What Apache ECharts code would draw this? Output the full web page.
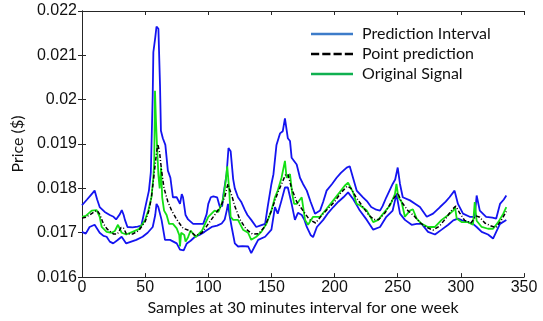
<!DOCTYPE html>
<html><head><meta charset="utf-8">
<script src="https://cdn.jsdelivr.net/npm/echarts@6/dist/echarts.min.js"></script>
<style>html,body{margin:0;padding:0;background:#fff}#c{width:543px;height:321px}</style>
</head><body><div id="c"></div>
<script>
// ---- data ----
const xTicks = [0, 50, 100, 150, 200, 250, 300, 350];
const yTickLabels = ['0.016','0.017','0.018','0.019','0.02','0.021','0.022'];
const legendNames = ['Prediction Interval','Point prediction','Original Signal'];

const upperX = [0,4,7,10,12,14,18,22,25,27,30,31.5,33,34,36,40,44,47,48.5,51,53,54.5,56,56.5,58,59,60.5,61.8,62.5,64,66,67,68,70,72,75,77.6,79,80,82,84,88,92,96,98.7,100,102,104,107,109,111,112,114.5,116,117.7,119.7,121,123.5,126,129,131,134,138,141,145,147,150,151.6,154,156.8,159,160.7,162,163,164.7,166,170,172.6,175,178,181,184.5,188.5,191,193.7,198,201.6,205,209.6,212,214.6,217.5,222.5,226,229,233,236,238,241,246,248,250,251.8,254,259.7,264,267.6,273,278,283.5,288,291,295,297.7,301.7,307,311,312.5,315,320,325,328,331,334,336];
const upperY = [0.01762,0.01775,0.01785,0.01795,0.01775,0.01758,0.01747,0.0174,0.01736,0.0173,0.01742,0.01751,0.0174,0.01729,0.01713,0.01712,0.01714,0.01716,0.01736,0.01769,0.01795,0.01836,0.0201,0.02107,0.0214,0.02165,0.0216,0.0203,0.0193,0.01913,0.01898,0.01896,0.0184,0.01824,0.0178,0.0178,0.01765,0.01787,0.0178,0.0174,0.0173,0.0172,0.0172,0.0172,0.01742,0.01765,0.0178,0.01782,0.0178,0.0176,0.0176,0.01787,0.01832,0.01891,0.01884,0.01821,0.018,0.0178,0.0177,0.01751,0.0174,0.01729,0.01713,0.01716,0.0172,0.01758,0.0181,0.01832,0.01898,0.01924,0.01929,0.01958,0.01958,0.01913,0.01907,0.01869,0.01854,0.01824,0.0181,0.01795,0.0177,0.01743,0.0175,0.0177,0.01795,0.0181,0.01824,0.01835,0.01847,0.0185,0.01824,0.01795,0.0178,0.0177,0.01758,0.01752,0.0175,0.0176,0.0178,0.0181,0.0182,0.01847,0.0181,0.0178,0.01773,0.01765,0.01758,0.01736,0.01743,0.01758,0.0177,0.0178,0.01795,0.01765,0.01743,0.01736,0.01736,0.01784,0.0175,0.01736,0.01734,0.01732,0.01765,0.01775,0.01784];

const lowerX = [0,3,6,10,14,17,19.5,22,24.7,28,31.4,35,39,43,48,52,56,58,59,60.4,63,65.7,69.7,75,77.6,79,80.5,83,86,89.5,93,97,102.7,107,110.6,113,114.6,115.6,116.8,118.5,121,123.6,127,131.6,134,136.7,139.5,145,150,152.8,155,158,160.7,163,166,168.6,171,174,176,178,181,183,186,191,195,199,203,207,210.7,214.7,218,220,225.5,230.6,236,241,246,249,251.8,255.7,261,265,269,274,279.5,284.8,290,294,297.7,301,305.6,309.6,312.5,316.5,321.5,325.5,328,331,336];
const lowerY = [0.01702,0.01698,0.01713,0.01718,0.017,0.01693,0.01691,0.0168,0.01676,0.01683,0.01691,0.01676,0.0168,0.01684,0.01691,0.017,0.01713,0.0174,0.01765,0.01758,0.01729,0.01684,0.01684,0.01676,0.01662,0.01658,0.0166,0.01676,0.01682,0.01691,0.01695,0.01702,0.01713,0.01716,0.01721,0.0173,0.0175,0.01765,0.0174,0.01713,0.01676,0.01669,0.0167,0.01669,0.01654,0.01669,0.01684,0.01691,0.01707,0.01758,0.01743,0.01773,0.01802,0.01802,0.01765,0.01729,0.01745,0.0174,0.0173,0.01713,0.01695,0.0169,0.01713,0.01729,0.01745,0.01758,0.0177,0.0178,0.01791,0.01776,0.0176,0.0175,0.01729,0.01707,0.01713,0.01736,0.0175,0.01787,0.01743,0.01729,0.01718,0.0172,0.0172,0.01702,0.01696,0.01707,0.01718,0.01728,0.01732,0.01728,0.01724,0.0172,0.01713,0.01702,0.01696,0.01687,0.01702,0.0172,0.01729];

const pointX = [0,3,6,10,12,14,17,20,25,28,31,33,35,40,45,50,53,55,57,59,60,61.5,63,65,68,71,75,80,85,90,95,100,105,110,113,115.5,117,119,121,125,130,135,140,145,150,155,158,161,163,166,170,175,180,185,190,195,200,205,210,213,217,222,227,231,235,240,245,250,253,258,263,268,273,278,283,288,293,296,299,303,308,312,315,319,324,328,332,336];
const pointY = [0.01733,0.01735,0.0174,0.01748,0.0175,0.01742,0.0172,0.01708,0.01697,0.01697,0.01712,0.0171,0.01698,0.01697,0.01705,0.01725,0.0175,0.0178,0.0183,0.0188,0.019,0.0188,0.0184,0.018,0.0177,0.0175,0.0173,0.0171,0.01705,0.01693,0.017,0.0172,0.0174,0.0176,0.0178,0.0181,0.01808,0.0178,0.0176,0.0173,0.01708,0.01697,0.01698,0.01715,0.0175,0.0179,0.0181,0.0183,0.01832,0.018,0.0177,0.0175,0.0173,0.01722,0.0174,0.01755,0.0177,0.0179,0.01805,0.018,0.0178,0.0176,0.0174,0.0173,0.0173,0.01745,0.0177,0.0179,0.0177,0.0175,0.01738,0.01722,0.01712,0.01706,0.01715,0.01732,0.01752,0.0176,0.01745,0.01728,0.01722,0.01738,0.01735,0.01722,0.01715,0.01712,0.01728,0.01748];

const origX = [0,3,7.7,11.6,14,15.6,19.5,23.5,26,28.5,31.4,35,40,45,50,52.5,55,56.5,57.2,57.8,58.6,59.5,60.5,61.5,62.6,63.5,65,67,69,72,75,77,77.6,78.5,81,82,84,86,90,95,100,105,108,110.6,112,113.8,115,116.6,117.7,119.7,123.5,127.5,131.5,134,138,142,146,150,152.8,155,158,159,160.7,162,164.7,166.5,168,170,174,176.6,179,183,188.5,193.7,199,204,208,210.7,214.7,217.5,220,225.5,230.6,234.6,238.5,244,247.8,249,250.5,253,255.7,259.7,262,265,269,274,279.5,284.8,290,294,295.4,296.7,300.6,305.6,309.6,311,312.5,316.5,321.5,325.5,329.6,333.6,336];
const origY = [0.01736,0.01738,0.0175,0.01751,0.01736,0.01713,0.01702,0.017,0.01704,0.01718,0.017,0.01696,0.01702,0.01708,0.01729,0.0175,0.0178,0.01824,0.0186,0.0202,0.0195,0.0189,0.0183,0.018,0.01847,0.0178,0.0175,0.0174,0.0172,0.0172,0.0171,0.01695,0.01669,0.017,0.01695,0.0168,0.0169,0.01705,0.0169,0.01705,0.01736,0.0175,0.01747,0.01765,0.0178,0.01817,0.0185,0.01795,0.01736,0.01729,0.01729,0.01707,0.017,0.01684,0.01691,0.01702,0.0172,0.0175,0.0178,0.01795,0.01824,0.0182,0.01862,0.01824,0.01832,0.01787,0.01765,0.01765,0.0178,0.01729,0.01718,0.01736,0.01736,0.01754,0.01773,0.01791,0.01806,0.01813,0.01791,0.01765,0.01762,0.0175,0.01724,0.01729,0.01743,0.01762,0.01787,0.0181,0.0178,0.0177,0.01736,0.0175,0.01753,0.01732,0.0172,0.01713,0.01713,0.01729,0.0174,0.0175,0.01758,0.01732,0.01724,0.01724,0.01718,0.01769,0.01727,0.01713,0.01709,0.01709,0.01724,0.01743,0.01758];

// ---- chart ----
const zip = (xs, ys) => xs.map((x, i) => [x, ys[i]]);
const chart = echarts.init(document.getElementById('c'), null, {renderer: 'canvas'});
const axisCol = '#262626';
const labFont = '"Liberation Sans", Arial, sans-serif';
const txtFont = 'Lato, "Open Sans", sans-serif';
const yLab = v => { const i = Math.round((v - 0.016) / 0.001); return yTickLabels[i] !== undefined ? yTickLabels[i] : ''; };

const baseX = {type: 'value', min: 0, max: 350, interval: 50,
  axisLine: {lineStyle: {color: axisCol, width: 1}}, splitLine: {show: false},
  axisTick: {inside: true, length: 4, lineStyle: {color: axisCol}}};
const baseY = {type: 'value', min: 0.016, max: 0.022, interval: 0.001,
  axisLine: {show: true, lineStyle: {color: axisCol, width: 1}}, splitLine: {show: false},
  axisTick: {show: true, inside: true, length: 4, lineStyle: {color: axisCol}}};

const solidIcon = 'path://M0,0L41,0L41,2.5L0,2.5Z';
const dashIcon = 'path://M0,0L8,0L8,2.5L0,2.5Z M11,0L19,0L19,2.5L11,2.5Z M22,0L30,0L30,2.5L22,2.5Z M33,0L41,0L41,2.5L33,2.5Z';

chart.setOption({
  animation: false,
  backgroundColor: '#fff',
  grid: {left: 82, right: 19, top: 11, bottom: 40, containLabel: false},
  xAxis: [
    Object.assign({}, baseX, {position: 'bottom',
      axisLabel: {color: '#111', fontSize: 16, fontFamily: labFont, margin: 2},
      name: 'Samples at 30 minutes interval for one week', nameLocation: 'middle', nameGap: 20,
      nameTextStyle: {color: '#111', fontSize: 16, fontFamily: txtFont}}),
    Object.assign({}, baseX, {position: 'top', axisLabel: {show: false}})
  ],
  yAxis: [
    Object.assign({}, baseY, {position: 'left',
      axisLabel: {color: '#111', fontSize: 16, fontFamily: labFont, margin: 5, formatter: yLab},
      name: 'Price ($)', nameLocation: 'middle', nameGap: 50,
      nameTextStyle: {color: '#111', fontSize: 16, fontFamily: txtFont}}),
    Object.assign({}, baseY, {position: 'right', axisLabel: {show: false}})
  ],
  legend: {
    orient: 'vertical', left: 306, top: 21, itemWidth: 42, itemHeight: 14, itemGap: 4,
    textStyle: {color: '#111', fontSize: 16, lineHeight: 15, fontFamily: txtFont, padding: [0,0,0,4]},
    data: [
      {name: legendNames[0], icon: solidIcon, itemStyle: {color: '#3d7cc9'}},
      {name: legendNames[1], icon: dashIcon, itemStyle: {color: '#000'}},
      {name: legendNames[2], icon: solidIcon, itemStyle: {color: '#10b050'}}
    ]
  },
  series: [
    {name: legendNames[0], type: 'line', data: zip(upperX, upperY), symbol: 'none', showSymbol: false,
      lineStyle: {color: '#1414f0', width: 1.8}, itemStyle: {color: '#1414f0'}, z: 2},
    {name: legendNames[0], type: 'line', data: zip(lowerX, lowerY), symbol: 'none', showSymbol: false,
      lineStyle: {color: '#1414f0', width: 1.8}, itemStyle: {color: '#1414f0'}, z: 2},
    {name: legendNames[2], type: 'line', data: zip(origX, origY), symbol: 'none', showSymbol: false,
      lineStyle: {color: '#14e014', width: 1.8}, itemStyle: {color: '#14e014'}, z: 3},
    {name: legendNames[1], type: 'line', data: zip(pointX, pointY), symbol: 'none', showSymbol: false,
      lineStyle: {color: '#000', width: 1.5, type: [4,2,1,2]}, itemStyle: {color: '#000'}, z: 4}
  ]
});
</script></body></html>
